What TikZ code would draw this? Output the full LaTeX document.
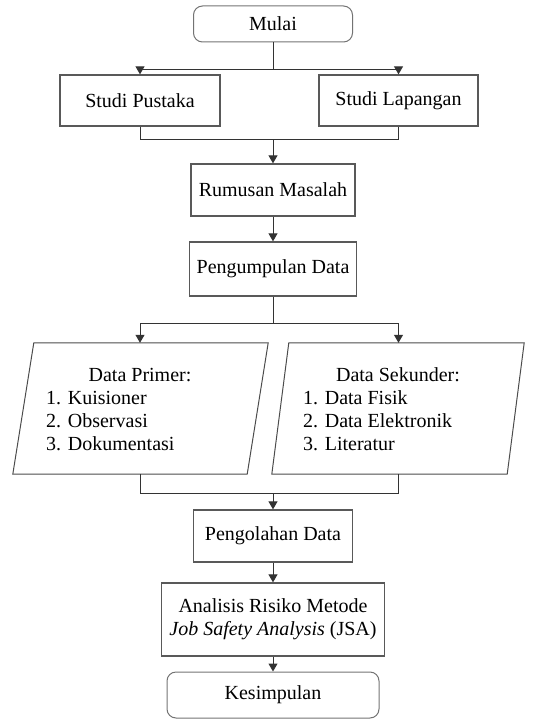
\documentclass[tikz,border=0pt]{standalone}
\usepackage{fontspec}
\setmainfont{Liberation Serif}
\usetikzlibrary{arrows.meta,calc}
\begin{document}
\begin{tikzpicture}[x=1pt,y=-1pt,
  every node/.style={font=\fontsize{20}{23}\selectfont},
  box/.style={draw=black!65, line width=1.3pt, inner sep=2pt},
  rbox/.style={draw=black!55, line width=1pt, rounded corners=9pt, inner sep=2pt},
  pgram/.style={draw=black!70, line width=1pt},
  conn/.style={draw=black!80, line width=1pt},
  arr/.style={conn, -{Triangle[length=8pt,width=9pt]}}]
\useasboundingbox (0,0) rectangle (533,722);
% nodes
\node[rbox, minimum width=159pt, minimum height=36pt] (mulai) at (273,24) {Mulai};
\node[box, minimum width=160pt, minimum height=51pt] (sp) at (140,100.5) {Studi Pustaka};
\node[box, minimum width=159pt, minimum height=51pt] (sl) at (398.5,100.5) {Studi Lapangan};
\node[box, minimum width=164pt, minimum height=52pt] (rm) at (273,190) {Rumusan Masalah};
\node[box, minimum width=167pt, minimum height=54pt] (pd) at (273,269) {Pengumpulan Data};
\node[inner sep=0, minimum width=234pt, minimum height=131pt] (dp) at (140.5,408.5) {};
\node[inner sep=0, minimum width=235pt, minimum height=131pt] (ds) at (398,408.5) {};
\draw[pgram] ([xshift=-10.5pt]dp.south west) -- ([xshift=-10.5pt]dp.south east)
  -- ([xshift=10.5pt]dp.north east) -- ([xshift=10.5pt]dp.north west) -- cycle;
\draw[pgram] ([xshift=-8.5pt]ds.south west) -- ([xshift=-8.5pt]ds.south east)
  -- ([xshift=8.5pt]ds.north east) -- ([xshift=8.5pt]ds.north west) -- cycle;
\node[inner sep=0] (dpt) at (140,375) {Data Primer:};
\node[inner sep=0, anchor=west, align=left] (dpl) at (46,421) {1. Kuisioner\\2. Observasi\\3. Dokumentasi};
\node[inner sep=0] (dst) at (398,375) {Data Sekunder:};
\node[inner sep=0, anchor=west, align=left] (dsl) at (303,421) {1. Data Fisik\\2. Data Elektronik\\3. Literatur};
\node[box, minimum width=159pt, minimum height=52pt] (po) at (273,536) {Pengolahan Data};
\node[box, minimum width=223pt, minimum height=73pt, align=center] (an) at (273,619.5)
  {Analisis Risiko Metode\\\textit{Job Safety Analysis} (JSA)};
\node[rbox, minimum width=212pt, minimum height=46pt] (ks) at (273,695) {Kesimpulan};
% connectors
\draw[conn] (mulai.south) -- ++(0,27) coordinate (j1);
\draw[conn] (j1 -| sp.north) -- (j1 -| sl.north);
\draw[arr] (j1 -| sp.north) -- (sp.north);
\draw[arr] (j1 -| sl.north) -- (sl.north);
\draw[conn] (sp.south) -- ++(0,13) coordinate (j2) -- (j2 -| sl.south) -- (sl.south);
\draw[arr] (j2 -| rm.north) -- (rm.north);
\draw[arr] (rm) -- (pd);
\draw[conn] (pd.south) -- ++(0,27) coordinate (j3);
\draw[conn] (j3 -| sp.south) -- (j3 -| sl.south);
\draw[arr] (j3 -| sp.south) -- (dp.north -| sp.south);
\draw[arr] (j3 -| sl.south) -- (ds.north -| sl.south);
\draw[conn] (dp.south -| sp.south) -- ++(0,19) coordinate (j4) -- (j4 -| sl.south) -- (ds.south -| sl.south);
\draw[arr] (j4 -| po.north) -- (po.north);
\draw[arr] (po) -- (an);
\draw[arr] (an) -- (ks);
\end{tikzpicture}
\end{document}
